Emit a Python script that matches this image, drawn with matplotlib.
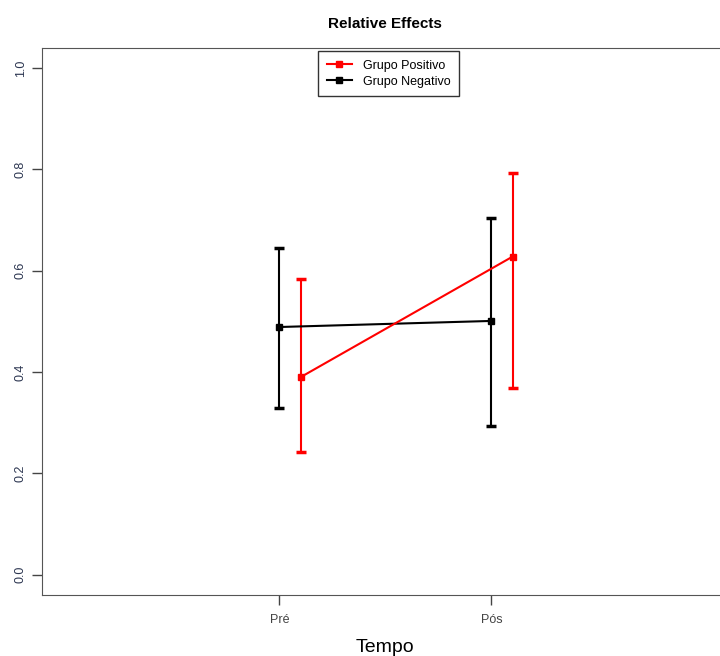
import numpy as np
import matplotlib.pyplot as plt
from matplotlib.lines import Line2D

plt.rcParams["font.family"] = ["Liberation Sans", "DejaVu Sans"]

# data
tempo = ["Pré", "Pós"]
pos_mean = [0.390, 0.628]
pos_low = [0.243, 0.368]
pos_high = [0.584, 0.793]
neg_mean = [0.489, 0.501]
neg_low = [0.330, 0.294]
neg_high = [0.644, 0.704]

x = np.array([1, 2])

fig = plt.figure(figsize=(7.2, 6.56), dpi=100)
ax = fig.add_axes([0.0583, 0.093, 0.954, 0.834])

# black group at tick, red shifted right
ax.errorbar(x, neg_mean,
            yerr=[np.array(neg_mean) - np.array(neg_low), np.array(neg_high) - np.array(neg_mean)],
            color="black", lw=1.5, marker="s", ms=4.5, capsize=3.5, capthick=2.5, zorder=3)
ax.errorbar(x + 0.1, pos_mean,
            yerr=[np.array(pos_mean) - np.array(pos_low), np.array(pos_high) - np.array(pos_mean)],
            color="red", lw=1.5, marker="s", ms=4.5, capsize=3.5, capthick=2.5, zorder=3)

ax.set_xlim(-0.12, 3.12)
ax.set_ylim(-0.04, 1.04)
ax.set_xticks(x)
ax.set_xticklabels(tempo)
ax.set_yticks([0.0, 0.2, 0.4, 0.6, 0.8, 1.0])
ax.set_yticklabels(["0.0", "0.2", "0.4", "0.6", "0.8", "1.0"], rotation=90, va="center")
ax.tick_params(axis="both", length=7, width=1, colors="#444444", labelsize=9, pad=7)
ax.tick_params(axis="y", labelcolor="#2b3550", pad=4)
for spine in ax.spines.values():
    spine.set_color("#555555")

ax.set_title("Relative Effects", fontsize=11, fontweight="bold", pad=14)
ax.set_xlabel("Tempo", fontsize=14, labelpad=9)

handles = [Line2D([], [], color="red", lw=1.5, marker="s", ms=4),
           Line2D([], [], color="black", lw=1.5, marker="s", ms=4)]
leg = ax.legend(handles, ["Grupo Positivo", "Grupo Negativo"], loc="upper left",
                bbox_to_anchor=(0.397, 1.0), fontsize=9, frameon=True,
                fancybox=False, edgecolor="black", borderaxespad=0.25,
                handlelength=2.0, handletextpad=0.9, labelspacing=0.3,
                borderpad=0.7)
leg._legend_box.sep = 0
leg.get_frame().set_linewidth(1)

fig.savefig("out.png", dpi=100)
